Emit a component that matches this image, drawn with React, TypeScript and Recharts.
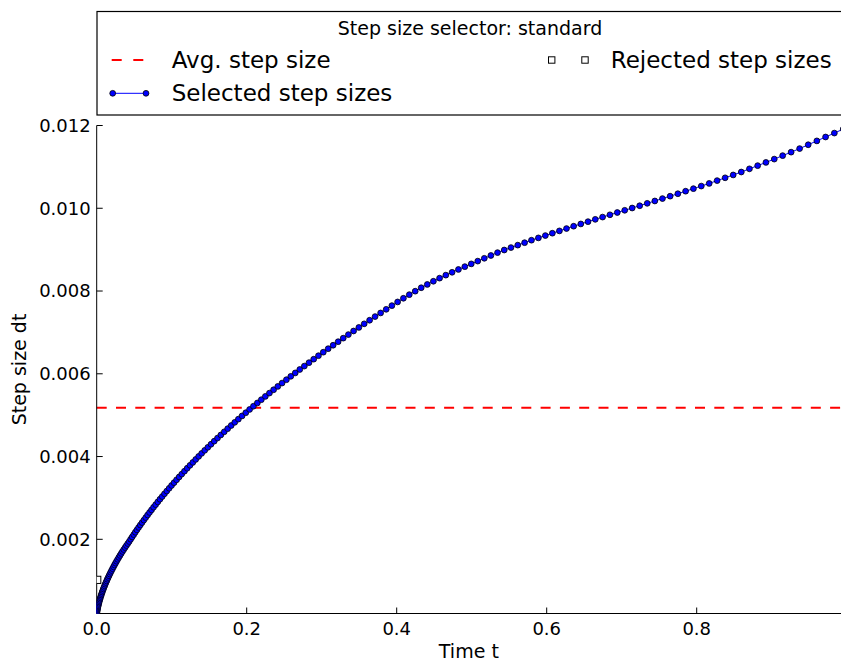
import {
  ComposedChart,
  Line,
  Scatter,
  XAxis,
  YAxis,
  ReferenceLine,
  Legend,
} from "recharts";

// accepted step sizes dt, in the order they were taken (time = running sum)
const selectedDt = [
  0.000207, 0.000232, 0.000257, 0.000283, 0.00031, 0.000338, 0.000366, 0.000395, 0.000425, 0.000456,
  0.000487, 0.00052, 0.000552, 0.000586, 0.00062, 0.000655, 0.00069, 0.000726, 0.000763, 0.0008,
  0.000838, 0.000876, 0.000915, 0.000955, 0.000995, 0.001035, 0.001076, 0.001118, 0.00116, 0.001203,
  0.001246, 0.00129, 0.001334, 0.001379, 0.001424, 0.00147, 0.001516, 0.001563, 0.00161, 0.001657,
  0.001705, 0.001752, 0.0018, 0.001848, 0.001897, 0.001946, 0.002001, 0.002057, 0.002113, 0.00217,
  0.002228, 0.002286, 0.002345, 0.002404, 0.002464, 0.002525, 0.002587, 0.002649, 0.002711, 0.002775,
  0.002838, 0.002903, 0.002968, 0.003033, 0.003099, 0.003166, 0.003233, 0.003301, 0.003369, 0.003438,
  0.003507, 0.003576, 0.003646, 0.003717, 0.003788, 0.003859, 0.003931, 0.004004, 0.004077, 0.00415,
  0.004223, 0.004297, 0.004372, 0.004447, 0.004522, 0.004598, 0.004674, 0.00475, 0.004827, 0.004904,
  0.004982, 0.005059, 0.005138, 0.005216, 0.005295, 0.005374, 0.005454, 0.005534, 0.005614, 0.005695,
  0.005776, 0.005857, 0.005939, 0.006021, 0.006104, 0.006186, 0.006269, 0.006353, 0.006437, 0.006521,
  0.006606, 0.00669, 0.006775, 0.006861, 0.006947, 0.007034, 0.00712, 0.007207, 0.007294, 0.007382,
  0.00747, 0.007558, 0.007647, 0.007736,
  0.007825, 0.007912, 0.007996, 0.008079, 0.008159, 0.008236, 0.008311, 0.008384, 0.008453, 0.008521,
  0.008589, 0.008656, 0.008723, 0.008791, 0.008859, 0.008928, 0.008991, 0.00905, 0.009109, 0.009168,
  0.009228, 0.009284, 0.00934, 0.009397, 0.009453, 0.00951, 0.009566, 0.009621, 0.009676, 0.009732,
  0.009787, 0.009842, 0.009897, 0.009951, 0.010006, 0.010061, 0.010119, 0.010176, 0.010234, 0.010292,
  0.010351, 0.010412, 0.010474, 0.010536, 0.0106, 0.010668, 0.010736, 0.010805, 0.010876, 0.010953,
  0.01103, 0.011108, 0.011188, 0.011272, 0.011356, 0.011442, 0.011535, 0.011628, 0.011722, 0.011817,
  0.011913,
];

const rejectedT = [0.0007];
const rejectedDt = [0.00102];

const avgStep = 0.00518;

const xTicks = [0, 0.2, 0.4, 0.6, 0.8];
const yTicks = [0.002, 0.004, 0.006, 0.008, 0.01, 0.012];
const xDomain = [0, 0.9924];
const yDomain = [0.000207, 0.012];

const legendTitle = "Step size selector: standard";
const avgName = "Avg. step size";
const selectedName = "Selected step sizes";
const rejectedName = "Rejected step sizes";

// t_n is the sum of all steps before n
const stepTimes: number[] = [];
selectedDt.forEach((d, i) => {
  stepTimes.push(i === 0 ? 0 : stepTimes[i - 1] + selectedDt[i - 1]);
});
const selectedData = selectedDt.map((dt, i) => ({ t: stepTimes[i], dt }));
const rejectedData = rejectedT.map((t, i) => ({ t, dt: rejectedDt[i] }));

const BLUE = "#0000ff";
const FONT = '"DejaVu Sans", sans-serif';

const tickStyle = { fontSize: 18, fill: "#000", fontFamily: FONT };

const Square = (props: any) => (
  <rect
    x={props.cx - 3.6}
    y={props.cy - 3.6}
    width={7.2}
    height={7.2}
    fill="#fff"
    stroke="#000"
    strokeWidth={1}
  />
);

const LegendBox = () => (
  <svg width={841} height={125} style={{ display: "block" }}>
    <rect x={97} y={11.5} width={800} height={103.5} fill="#fff" stroke="#000" strokeWidth={1.2} />
    <text x={470} y={35} textAnchor="middle" fontSize={19} fontFamily={FONT}>
      {legendTitle}
    </text>
    <line x1={111.7} x2={143.3} y1={60} y2={60} stroke="#ff0000" strokeWidth={2} strokeDasharray="10 11.6" />
    <text x={171.7} y={68.3} fontSize={23} fontFamily={FONT}>
      {avgName}
    </text>
    <line x1={112.7} x2={146} y1={93.3} y2={93.3} stroke={BLUE} strokeWidth={1} />
    <circle cx={112.7} cy={93.3} r={2.9} fill={BLUE} stroke="#000" strokeWidth={0.8} />
    <circle cx={146} cy={93.3} r={2.9} fill={BLUE} stroke="#000" strokeWidth={0.8} />
    <text x={171.7} y={101} fontSize={23} fontFamily={FONT}>
      {selectedName}
    </text>
    <rect x={548.5} y={56.8} width={6.4} height={6.4} fill="#fff" stroke="#000" strokeWidth={1} />
    <rect x={581.8} y={56.8} width={6.4} height={6.4} fill="#fff" stroke="#000" strokeWidth={1} />
    <text x={610.7} y={68.3} fontSize={23} fontFamily={FONT}>
      {rejectedName}
    </text>
  </svg>
);

export default function App() {
  return (
    <div
      style={{
        position: "absolute",
        left: 0,
        top: 0,
        width: 841,
        height: 663,
        background: "#fff",
        fontFamily: FONT,
        overflow: "hidden",
      }}
    >
      <ComposedChart
        width={841}
        height={663}
        margin={{ top: 125.5, right: 0, bottom: 0, left: 0 }}
      >
        <XAxis
          dataKey="t"
          type="number"
          domain={xDomain}
          ticks={xTicks}
          allowDataOverflow
          tickFormatter={(v: number) => v.toFixed(1)}
          tick={tickStyle}
          tickSize={-6}
          tickMargin={15}
          height={49.5}
          axisLine={{ stroke: "#000" }}
          tickLine={{ stroke: "#000" }}
          label={{ value: "Time t", position: "insideBottom", offset: 5, fontSize: 19, fill: "#000" }}
        />
        <XAxis
          xAxisId="top"
          orientation="top"
          dataKey="t"
          type="number"
          domain={xDomain}
          ticks={xTicks}
          allowDataOverflow
          tickFormatter={() => ""}
          tickSize={-6}
          height={0}
          axisLine={{ stroke: "#000" }}
          tickLine={{ stroke: "#000" }}
        />
        <YAxis
          dataKey="dt"
          type="number"
          domain={yDomain}
          ticks={yTicks}
          allowDataOverflow
          tickFormatter={(v: number) => v.toFixed(3)}
          tick={tickStyle}
          tickSize={-6}
          tickMargin={12}
          width={96.7}
          axisLine={{ stroke: "#000" }}
          tickLine={{ stroke: "#000" }}
          label={{
            value: "Step size dt",
            angle: -90,
            position: "insideLeft",
            offset: 19,
            textAnchor: "middle",
            fontSize: 19,
            fill: "#000",
          }}
        />
        <YAxis
          yAxisId="right"
          orientation="right"
          dataKey="dt"
          type="number"
          domain={yDomain}
          ticks={yTicks}
          allowDataOverflow
          tickFormatter={() => ""}
          tickSize={-6}
          width={0}
          axisLine={{ stroke: "#000" }}
          tickLine={{ stroke: "#000" }}
        />
        <Legend
          verticalAlign="middle"
          align="center"
          content={() => <LegendBox />}
          wrapperStyle={{ top: 0, left: 0, width: 841, height: 125 }}
        />
        <ReferenceLine
          y={avgStep}
          stroke="#ff0000"
          strokeWidth={2}
          strokeDasharray="10 9.3"
        />
        <Line
          data={selectedData}
          dataKey="dt"
          name={selectedName}
          type="linear"
          stroke={BLUE}
          strokeWidth={1}
          dot={{ r: 2.9, fill: BLUE, stroke: "#000", strokeWidth: 0.8 }}
          activeDot={false}
          isAnimationActive={false}
        />
        <Scatter
          data={rejectedData}
          dataKey="dt"
          name={rejectedName}
          shape={Square}
          isAnimationActive={false}
        />
      </ComposedChart>
    </div>
  );
}
